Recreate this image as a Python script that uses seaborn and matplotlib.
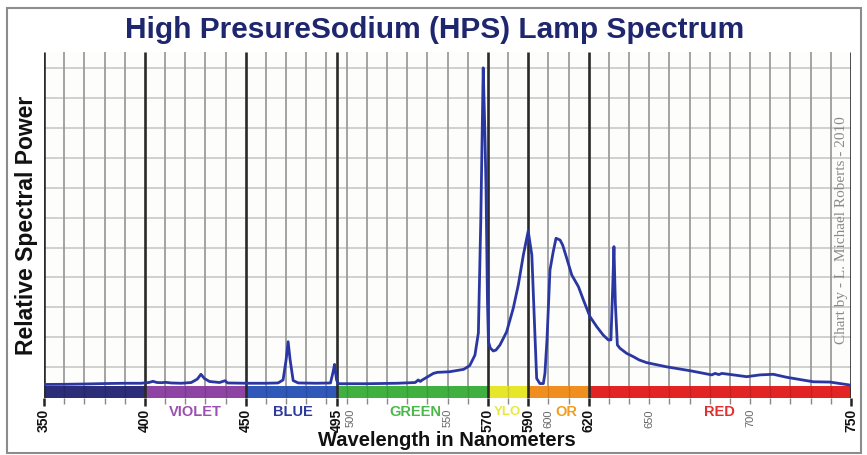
import matplotlib
matplotlib.use("Agg")
import matplotlib.pyplot as plt
import matplotlib.patches as mpatches
import matplotlib.transforms as mtransforms
import seaborn as sns
import pandas as pd

# ---------------- data ----------------
wavelength = [350, 360, 370, 380, 390, 398, 402, 404, 406, 408, 410.5, 413, 418, 423, 426,
              427.8, 429.5, 432, 437, 439.7, 441, 450, 460, 466, 468.5, 470, 471, 472, 473.5,
              476, 485, 492, 493.3, 494, 495, 496, 510, 525, 534, 535.5, 536.5, 537.5, 540,
              543, 545, 551, 558, 561, 563.6, 565.3, 566.5, 567.7, 568.5, 569.1, 569.8, 570.3,
              571.2, 572.7, 574, 576, 579.3, 582.6, 585.1, 587.6, 590, 591.8, 593.4, 594.2,
              595.8, 597.5, 598.3, 599.3, 600.8, 602.4, 603.8, 605.8, 607.1, 609.1, 611.6,
              614.9, 617.4, 620.6, 624, 627.2, 629.7, 631, 631.9, 632.5, 633.2, 634.2, 635.5,
              638.8, 642.1, 645, 648.7, 658.6, 670.2, 681, 682.6, 684.5, 686, 691.7, 698.3,
              704.9, 711.5, 718.1, 731.3, 739.6, 749.5]
power = [4.2, 4.25, 4.35, 4.5, 4.6, 4.6, 4.85, 5.25, 4.85, 4.8, 4.9, 4.7, 4.6, 4.85, 6.0,
         7.6, 6.2, 5.2, 4.85, 5.45, 4.7, 4.6, 4.6, 4.7, 5.7, 12.4, 18.5, 12.4, 5.5,
         4.7, 4.6, 4.7, 8.4, 10.9, 5.7, 4.45, 4.45, 4.6, 4.85, 5.7, 5.2, 5.7, 6.7,
         7.9, 8.25, 8.45, 9.25, 10.5, 14.0, 21.4, 59.2, 110.1, 89.3, 69.9, 32.4, 18.5,
         16.4, 15.4, 15.7, 17.4, 21.8, 29.7, 37.5, 47.5, 55.5, 47.5, 19.7, 6.2,
         4.5, 4.5, 7.9, 19.1, 42.5, 48.6, 53.1, 52.5, 50.8, 46.4, 40.8,
         36.9, 32.4, 26.9, 23.5, 20.7, 19.1, 19.1, 36.9, 50.3, 31.4, 17.4, 16.3,
         14.6, 13.5, 12.4, 11.5, 10.1, 8.8, 7.4, 7.9, 7.5, 7.9, 7.4, 6.8,
         7.4, 7.6, 6.6, 5.1, 5.0, 4.0]

band_edges = [350, 400, 450, 495, 570, 590, 620, 750]
band_colors = ["#2b2d78", "#8d44a3", "#2f58b8", "#40b040", "#e6e62a", "#f08e20", "#e22424"]
band_names = ["VIOLET", "BLUE", "GREEN", "YLO", "OR", "RED"]
band_label_x = [425, 473.5, 534, 579.8, 609, 685]
band_label_colors = ["#9b4fb0", "#2d3a9c", "#4cb84c", "#e8e840", "#f0a020", "#e03030"]
band_label_sizes = [10.5, 10.5, 10.5, 9.5, 10.5, 10.5]

major_ticks = [350, 400, 450, 495, 570, 590, 620, 750]
minor_labeled = [550, 600, 650, 700]
extra_label = 500

df = pd.DataFrame({"Wavelength": wavelength, "Power": power})

# ---------------- style ----------------
sns.set_style("white")
plt.rcParams["font.family"] = ["Liberation Sans", "DejaVu Sans"]

fig = plt.figure(figsize=(8.67, 4.55), dpi=100)
fig.patch.set_facecolor("white")

W, H = 867, 455
ax = fig.add_axes([44 / W, 1 - 398 / H, (851 - 44) / W, (398 - 52) / H])
ax.set_facecolor("#fdfdfb")
ymin, ymax = -0.33, 115.4
ax.set_xlim(350, 750)
ax.set_ylim(ymin, ymax)
for s in ax.spines.values():
    s.set_visible(False)

# horizontal grid
ax.hlines(range(10, 111, 10), 350, 750, colors="#c9c9c9", lw=1.2, zorder=1)
# vertical minor grid every 10 nm
minor_pos = [x for x in range(360, 750, 10) if x not in major_ticks]
ax.vlines(minor_pos, ymin, ymax, colors="#9c9c9c", lw=1.3, zorder=1)

# colour bar
for i in range(len(band_colors)):
    ax.add_patch(mpatches.Rectangle((band_edges[i], ymin), band_edges[i + 1] - band_edges[i],
                                    3.8 - ymin, facecolor=band_colors[i], edgecolor="none", zorder=2))
ax.vlines(minor_pos, ymin, 3.8, colors="#000000", lw=1.0, alpha=0.12, zorder=2.5)

# major lines
ax.vlines(major_ticks, ymin, ymax, colors="#2a2a2a", lw=1.9, zorder=3)

# spectrum
sns.lineplot(data=df, x="Wavelength", y="Power", ax=ax, color="#2a37a3", lw=2.0, zorder=4)

# ticks
ax.set_yticks([])
ax.set_xticks(major_ticks)
ax.set_xticklabels([str(t) for t in major_ticks], rotation=90, fontweight="bold", fontsize=10,
                   color="#111111")
ax.set_xticks(list(range(360, 750, 10)), minor=True)
ax.set_xticklabels([str(t) if t in minor_labeled else "" for t in range(360, 750, 10)],
                   minor=True, rotation=90, fontsize=8, color="#666666")
ax.tick_params(axis="x", which="major", length=6, width=1.8, color="#222222", pad=2, bottom=True)
ax.tick_params(axis="x", which="minor", length=4, width=1.0, color="#888888", pad=4, bottom=True)
# "500" label, nudged right of "495"
trans = mtransforms.blended_transform_factory(ax.transData, ax.transAxes)
ax.annotate(str(extra_label), xy=(extra_label, 0), xycoords=trans, xytext=(3, -8),
            textcoords="offset points", rotation=90, ha="center", va="top", fontsize=8,
            color="#666666", annotation_clip=False)
ax.set_xlabel("")
ax.set_ylabel("")

# band names
for name, x, c, fs in zip(band_names, band_label_x, band_label_colors, band_label_sizes):
    ax.text(x, -5.0, name, color=c, fontsize=fs, fontweight="bold", ha="center", va="center",
            clip_on=False)

# labels
fig.text(447 / W, 1 - 441 / H, "Wavelength in Nanometers", ha="center", va="center",
         fontsize=14.5, fontweight="bold", color="#111111")
fig.text(27 / W, 1 - 225 / H, "Relative Spectral Power", ha="center", va="center",
         rotation=90, fontsize=16.5, fontweight="bold", color="#111111")
fig.text(435 / W, 1 - 30 / H, "High PresureSodium (HPS) Lamp Spectrum", ha="center",
         va="center", fontsize=21.5, fontweight="bold", color="#1e266e")
fig.text(841 / W, 1 - 230 / H, "Chart by - L. Michael Roberts - 2010", ha="center",
         va="center", rotation=90, fontsize=11, color="#8a8a8a",
         family=["Liberation Serif", "DejaVu Serif"])

# outer frame
fig.add_artist(mpatches.Rectangle((7 / W, 2 / H), (861 - 7) / W, (447 - 2) / H,
                                  transform=fig.transFigure, fill=False, edgecolor="#8c8c8c",
                                  lw=1.5))

fig.savefig("out.png", dpi=100, facecolor="white")
